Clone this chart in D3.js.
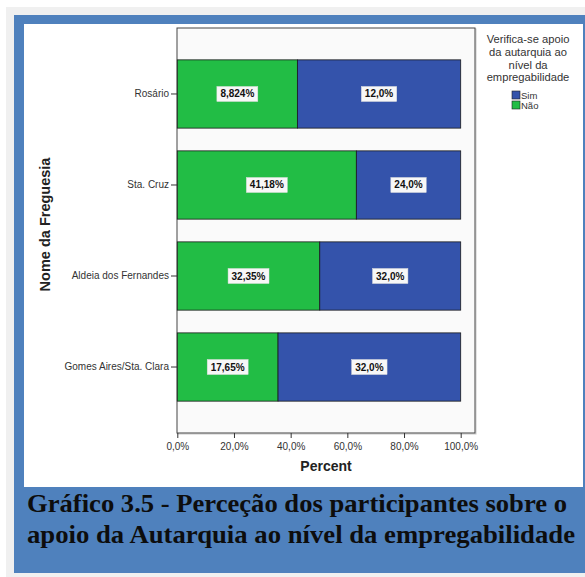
<!DOCTYPE html>
<html><head><meta charset="utf-8">
<script src="https://cdn.jsdelivr.net/npm/d3@7/dist/d3.min.js"></script>
<style>html,body{margin:0;padding:0;background:#fff;}svg{display:block;}</style>
</head><body>
<script>
const categories = ["Rosário", "Sta. Cruz", "Aldeia dos Fernandes", "Gomes Aires/Sta. Clara"];
const naoValues = [8.824, 41.18, 32.35, 17.65];
const simValues = [12.0, 24.0, 32.0, 32.0];
const naoLabels = ["8,824%", "41,18%", "32,35%", "17,65%"];
const simLabels = ["12,0%", "24,0%", "32,0%", "32,0%"];
const xTicks = [0, 0.2, 0.4, 0.6, 0.8, 1.0];
const xTickLabels = ["0,0%", "20,0%", "40,0%", "60,0%", "80,0%", "100,0%"];
const seriesKeys = ["Não", "Sim"];
const legendOrder = ["Sim", "Não"];
const colors = {"Não": "#22bd45", "Sim": "#3453ab"};

const SANS = "'Liberation Sans', Arial, sans-serif";
const SERIF = "'Liberation Serif', 'Times New Roman', serif";

const W = 585, H = 577;
const svg = d3.select("body").append("svg").attr("width", W).attr("height", H);

// page background & frame
svg.append("rect").attr("x",0).attr("y",0).attr("width",W).attr("height",H).attr("fill","#ffffff");
svg.append("rect").attr("x",6).attr("y",7).attr("width",W-6).attr("height",H-7).attr("fill","#f0f0f0");
svg.append("rect").attr("x",14).attr("y",15).attr("width",W-14).attr("height",558).attr("fill","#4f81bd");
svg.append("rect").attr("x",24).attr("y",24).attr("width",559).attr("height",463).attr("fill","#ffffff");

const table = categories.map((c,i)=>({cat:c, "Não":naoValues[i], "Sim":simValues[i], i}));
const stack = d3.stack().keys(seriesKeys).offset(d3.stackOffsetExpand);
const stacked = stack(table);

const frame = {l:177, t:28, r:475, b:433};
const x = d3.scaleLinear().domain([0,1]).range([177.3, 460.7]);
const y = d3.scaleBand().domain(categories).range([frame.t, frame.b]).paddingInner(0.25).paddingOuter(0.35);

// plot frame
svg.append("rect").attr("x",frame.l+1).attr("y",frame.t+1).attr("width",frame.r-frame.l).attr("height",frame.b-frame.t)
  .attr("fill","none").attr("stroke","#c8c8c8").attr("stroke-width",1);
svg.append("rect").attr("x",frame.l).attr("y",frame.t).attr("width",frame.r-frame.l).attr("height",frame.b-frame.t)
  .attr("fill","#fafafa").attr("stroke","#444").attr("stroke-width",1);

// bars
const g = svg.append("g");
stacked.forEach((s) => {
  g.selectAll(null).data(s).enter().append("rect")
    .attr("x", d => x(d[0]))
    .attr("y", d => y(d.data.cat))
    .attr("width", d => x(d[1]) - x(d[0]))
    .attr("height", y.bandwidth())
    .attr("fill", colors[s.key])
    .attr("stroke", "#1a1a1a").attr("stroke-width", 0.8);
});

// value labels
stacked.forEach((s) => {
  const labs = s.key === "Não" ? naoLabels : simLabels;
  s.forEach((d, i) => {
    const cx = (x(d[0]) + x(d[1]))/2;
    const cy = y(d.data.cat) + y.bandwidth()/2;
    const t = svg.append("text").attr("x",cx).attr("y",cy+3.5).attr("text-anchor","middle")
      .attr("font-family",SANS).attr("font-weight","bold")
      .attr("font-size","10px").attr("fill","#111").text(labs[i]);
    const w = t.node().getComputedTextLength();
    svg.insert("rect", () => t.node()).attr("x",cx-w/2-3.5).attr("y",cy-7.5).attr("width",w+7).attr("height",15)
      .attr("fill","#f7f7f7").attr("stroke","#dddddd").attr("stroke-width",0.5);
  });
});

// x axis
const xAxis = d3.axisBottom(x).tickValues(xTicks).tickFormat((d,i)=>xTickLabels[i]).tickSize(5).tickSizeOuter(0);
const xa = svg.append("g").attr("transform",`translate(0,${frame.b})`).call(xAxis);
xa.select(".domain").remove();
xa.selectAll("line").attr("stroke","#333");
xa.selectAll("text").attr("font-family",SANS).attr("font-size","10px").attr("fill","#333").attr("dy","0.9em");

// y axis
const yAxis = d3.axisLeft(y).tickSize(6).tickSizeOuter(0).tickPadding(2);
const ya = svg.append("g").attr("transform",`translate(${frame.l},0)`).call(yAxis);
ya.select(".domain").remove();
ya.selectAll("line").attr("stroke","#333");
ya.selectAll("text").attr("font-family",SANS).attr("font-size","10px").attr("fill","#333");

// axis titles
svg.append("text").attr("x",(x(0)+x(1))/2 + 7).attr("y",471).attr("text-anchor","middle")
  .attr("font-family",SANS).attr("font-weight","bold").attr("font-size","14px").attr("fill","#222").text("Percent");
svg.append("text").attr("transform",`translate(50,${(frame.t+frame.b)/2 - 6}) rotate(-90)`).attr("text-anchor","middle")
  .attr("font-family",SANS).attr("font-weight","bold").attr("font-size","14.5px").attr("fill","#222").text("Nome da Freguesia");

// legend
const legTitle = ["Verifica-se apoio", "da autarquia ao", "nível da", "empregabilidade"];
legTitle.forEach((l,i)=>{
  svg.append("text").attr("x",528).attr("y",43+i*12.8).attr("text-anchor","middle")
    .attr("font-family",SANS).attr("font-size","11.2px").attr("fill","#333")
    .attr("textLength", null).text(l);
});
legendOrder.forEach((k,i)=>{
  svg.append("rect").attr("x",512).attr("y",91+i*10).attr("width",8).attr("height",8)
    .attr("fill",colors[k]).attr("stroke","#222").attr("stroke-width",0.6);
  svg.append("text").attr("x",521).attr("y",98.5+i*10)
    .attr("font-family",SANS).attr("font-size","9.5px").attr("fill","#333").text(k);
});

// caption
const cap = ["Gráfico 3.5 - Perceção dos participantes sobre o", "apoio da Autarquia ao nível da empregabilidade"];
const capX = [27, 27], capW = [540, 548], capY = [512, 543];
cap.forEach((c,i)=>{
  svg.append("text").attr("x",capX[i]).attr("y",capY[i])
    .attr("font-family",SERIF).attr("font-weight","bold").attr("font-size","25px")
    .attr("fill","#0d0d0d").attr("textLength",capW[i]).attr("lengthAdjust","spacingAndGlyphs").text(c);
});
</script>
</body></html>
